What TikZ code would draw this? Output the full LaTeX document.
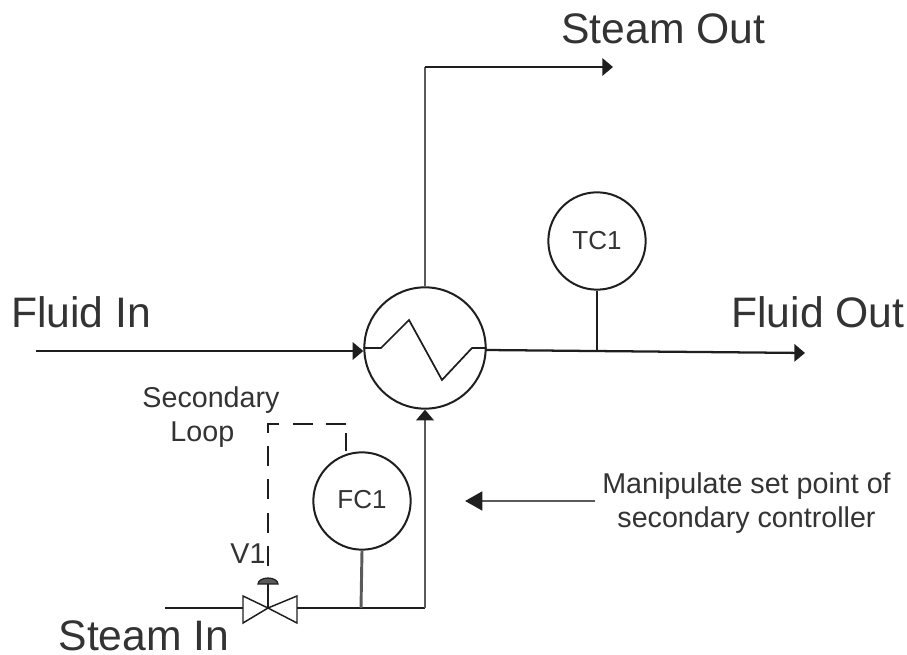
\documentclass[tikz,border=0pt]{standalone}
\usepackage{fontspec}
\setmainfont{Liberation Sans}
\usetikzlibrary{arrows.meta}
\definecolor{PipeGray}{HTML}{1E1E1E}
\definecolor{TextGray}{HTML}{333333}
\definecolor{StemGray}{HTML}{5A5A5A}
\tikzset{inst/.style={draw=PipeGray,circle,line width=1.5pt,minimum size=73pt,inner sep=0pt,font=\fontsize{19.5}{22}\selectfont,text=TextGray},
biglbl/.style={text=TextGray,inner sep=0pt,font=\fontsize{32}{36}\selectfont},
smalllbl/.style={text=TextGray,inner sep=0pt,align=center,font=\fontsize{21.5}{26}\selectfont},
pipe/.style={line width=1.7pt,PipeGray},
stem/.style={line width=2.2pt,StemGray},
thintip/.style={-{Triangle[length=8pt,width=13pt,color=PipeGray]}},
arr/.style={pipe,thintip}}
\begin{document}
\begin{tikzpicture}[x=.75pt,y=-.75pt]
\useasboundingbox (0,0) rectangle (907,655);
\node[inst,minimum size=91pt] (hx) at (425,348) {};
\node[inst] (tc) at (597,241) {TC1};
\node[inst] (fc) at (362,501) {\raisebox{2pt}{FC1}\hspace{4pt}};
\node[biglbl] (steamout) at (663.5,29) {Steam Out};
\node[biglbl] (fluidin) at (81,312) {Fluid In};
\node[biglbl] (fluidout) at (818,312) {Fluid Out};
\node[biglbl] (steamin) at (144,636) {Steam In};
\node[smalllbl] (secloop) at (211,417) {Secondary\\Loop\hspace{13pt}\mbox{}};
\node[smalllbl] (vone) at (248,554) {V1};
\node[smalllbl,anchor=west,inner sep=5pt,xshift=-5pt] (manip) at (602,503) {Manipulate set point of\\secondary controller};
\coordinate (finstart) at (36,351);
\coordinate (foutstart) at (486,350);
\coordinate (foutend) at (805,353);
\coordinate (tcjoin) at (597,351);
\coordinate (sinstart) at (165,608);
\coordinate (vleft) at (243,608);
\coordinate (vmid) at (268,608);
\coordinate (vright) at (297,608);
\coordinate (vcap) at (268,584);
\coordinate (fcjoin) at (361,608);
\coordinate (corner) at (425,608);
\coordinate (sbend) at (425,67);
\coordinate (soutend) at (613,67);
\coordinate (dashtop) at (268,424);
\coordinate (dashright) at (346,424);
\coordinate (manipend) at (465,501);
% pipes
\draw[arr] (finstart)--(hx.west|-finstart);
\draw[arr] (foutstart)--(foutend);
\draw[pipe] (tc.south)--(tcjoin);
\draw[stem] (hx.north)--(sbend);
\draw[arr] (sbend)--(soutend);
\draw[pipe] (sinstart)--(vleft);
\draw[pipe] (vright)--(corner);
\draw[stem,thintip] (corner)--(hx.south);
\draw[stem] (fc.south)--(fcjoin);
\draw[stem,-{Triangle[length=13pt,width=14pt,color=PipeGray]}] (manip.west|-manipend)--(manipend);
% zigzag in exchanger
\draw[pipe,line width=1.3pt] (hx.west)--(381,348)--(409,320)--(442,380)--(472,348)--(hx.east);
% valve
\draw[pipe,line width=1.1pt] (243,596)--(vmid)--(243,623)--cycle;
\draw[pipe,line width=1.1pt] (297,596)--(vmid)--(297,623)--cycle;
\draw[pipe] (vmid)--(vcap);
\draw[pipe,fill=StemGray,line width=.9pt] (258,584) arc[start angle=180,end angle=0,x radius=7.5pt,y radius=4.5pt]--cycle;
% secondary loop signal
\draw[pipe,line width=1.4pt] (fc.north-|dashright)--(346,433);
\draw[pipe,line width=1.4pt,dash pattern=on 15pt off 10pt] (dashright)--(dashtop)--(268,576);
\end{tikzpicture}
\end{document}
